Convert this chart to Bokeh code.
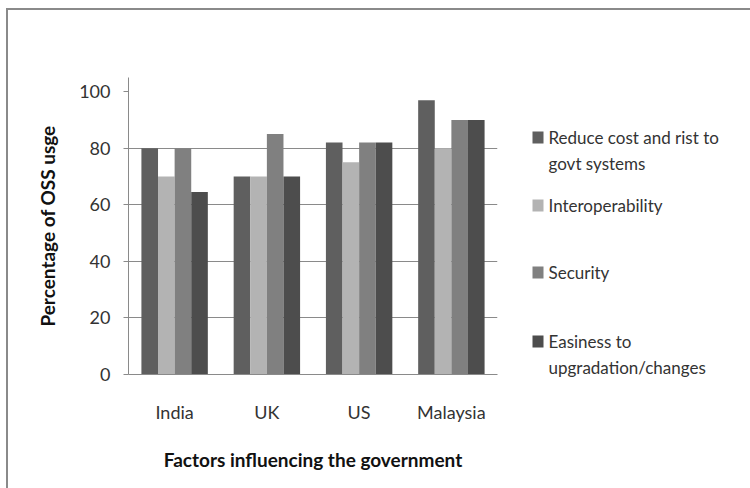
from bokeh.plotting import figure
from bokeh.layouts import row, column
from bokeh.models import ColumnDataSource, FactorRange, Range1d, FixedTicker
from bokeh.core.properties import value
from bokeh.transform import dodge
from bokeh.embed import file_html
from bokeh.resources import INLINE

# ---- data -------------------------------------------------------------
countries = ["India", "UK", "US", "Malaysia"]
reduce_cost = [80, 70, 82, 97]
interoperability = [70, 70, 75, 80]
security = [80, 85, 82, 90]
easiness = [64.5, 70, 82, 90]

series_names = [
    ["Reduce cost and rist to", "govt systems"],
    ["Interoperability"],
    ["Security"],
    ["Easiness to", "upgradation/changes"],
]
series_keys = ["reduce_cost", "interoperability", "security", "easiness"]
series_colors = ["#5f5f5f", "#b3b3b3", "#808080", "#4d4d4d"]
y_ticks = [0, 20, 40, 60, 80, 100]

source = ColumnDataSource(dict(
    country=countries,
    reduce_cost=reduce_cost,
    interoperability=interoperability,
    security=security,
    easiness=easiness,
))

# ---- layout -----------------------------------------------------------
W, H = 750, 488
OX, OY = 8, 10                        # content origin inside the chart border
FL, FR, FT, FB = 128, 497, 77, 374    # plot-area edges (page pixels)
MAIN_W = 517 - OX
FONT = "Lato"
TXT = "#333333"
AX = "#8a8a8a"

p = figure(
    width=MAIN_W, height=H - OY,
    x_range=FactorRange(*countries, range_padding=0),
    y_range=Range1d(0, 105),
    output_backend="svg", toolbar_location=None,
    min_border_left=FL - OX, min_border_right=OX + MAIN_W - FR,
    min_border_top=FT - OY, min_border_bottom=H - FB,
)
p.outline_line_color = None

bar_w = 0.18
offsets = [-0.27, -0.09, 0.09, 0.27]
for key, col, off in zip(series_keys, series_colors, offsets):
    p.vbar(x=dodge("country", off, range=p.x_range), top=key, width=bar_w,
           source=source, fill_color=col, line_color=None)

# axes
p.yaxis.ticker = FixedTicker(ticks=y_ticks)
p.ygrid.ticker = FixedTicker(ticks=[20, 40, 60, 80])
p.xgrid.grid_line_color = None
p.ygrid.grid_line_color = AX
p.ygrid.grid_line_width = 1

for ax in (p.xaxis[0], p.yaxis[0]):
    ax.axis_line_color = AX
    ax.major_label_text_font = FONT
    ax.major_label_text_font_size = "18px"
    ax.major_label_text_color = TXT
    ax.axis_label_text_font = FONT
    ax.axis_label_text_font_size = "19px"
    ax.axis_label_text_font_style = "bold"
    ax.axis_label_text_color = "#111111"
    ax.minor_tick_line_color = None

p.xaxis.major_tick_line_color = None
p.xaxis.major_label_standoff = 20
p.xaxis.axis_label = "Factors influencing the government"
p.xaxis.axis_label_standoff = 22

p.yaxis.major_tick_line_color = AX
p.yaxis.major_tick_out = 5
p.yaxis.major_tick_in = 0
p.yaxis.major_label_standoff = 13
p.yaxis.axis_label = "Percentage of OSS usge"
p.yaxis.axis_label_standoff = 17

# ---- legend panel (data units = page pixels) --------------------------
LEG_X0 = OX + MAIN_W
leg = figure(
    width=W - LEG_X0, height=H - OY,
    x_range=Range1d(LEG_X0, W), y_range=Range1d(H, OY),
    x_axis_type=None, y_axis_type=None,
    output_backend="svg", toolbar_location=None, min_border=0,
)
leg.outline_line_color = None
leg.grid.grid_line_color = None

legend_rows = [137, 205, 272, 341]
line_gap = 26
sq_x, sq_y, txt_x, txt_y, txt = [], [], [], [], []
for lines, yc in zip(series_names, legend_rows):
    sq_x.append(537.5)
    sq_y.append(yc)
    for i, line in enumerate(lines):
        txt_x.append(548)
        txt_y.append(yc + i * line_gap)
        txt.append(line)

leg.rect(x=sq_x, y=sq_y, width=11, height=12,
         fill_color=series_colors, line_color=None)
leg.text(x=txt_x, y=txt_y, text=txt, text_font=value(FONT),
         text_font_size="17px", text_color=TXT,
         text_baseline="middle", text_align="left")

layout = row(
    p, column(leg),
    styles={
        "margin-left": "6px", "margin-top": "8px",
        "border-top": "2px solid #8a8a8a", "border-left": "2px solid #8a8a8a",
    },
)

open("out.html", "w").write(file_html(layout, INLINE))
